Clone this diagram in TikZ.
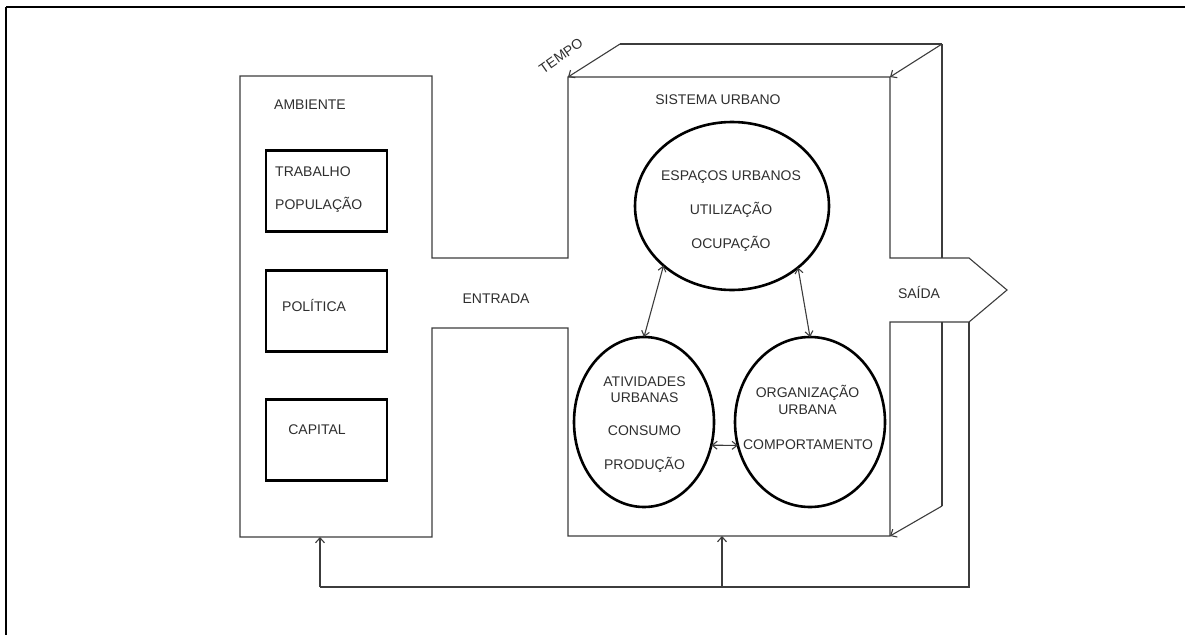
\documentclass[tikz,border=0pt]{standalone}
\usepackage{fontspec}
\setmainfont{Liberation Sans}
\usetikzlibrary{arrows.meta,shapes.geometric}
\definecolor{ink}{HTML}{3C3C3C}
\definecolor{txt}{HTML}{2E2E2E}
\tikzset{
  thin line/.style={draw=ink, line width=1.1pt},
  feed/.style={thin line, -{Straight Barb[length=5pt,width=9pt]}},
  both/.style={thin line, {Straight Barb[length=5pt,width=8pt]}-{Straight Barb[length=5pt,width=8pt]}},
  ell/.style={ellipse, draw=black, line width=2.6pt, inner sep=0pt, outer sep=0pt},
  factor/.style={rectangle, draw=black, line width=2.6pt, minimum width=121pt, minimum height=81pt, inner sep=0pt},
  lbl/.style={text=txt, font=\fontsize{14pt}{16pt}\selectfont, inner sep=0pt, anchor=center},
}
\begin{document}
\begin{tikzpicture}[x=1pt, y=-1pt]
\useasboundingbox (0,0) rectangle (1185,635);

% page frame (top and left rules)
\draw[line width=2.2pt] (6,7) -- (1185,7);
\draw[line width=2.2pt] (6,7) -- (6,635);

% environment + urban system outline with input channel and output arrow
\draw[thin line, line join=miter]
  (240,76) -- (432,76) -- (432,258) -- (568,258) -- (568,77) -- (890,77)
  -- (890,258) -- (969,258) -- (1007,290) -- (969,322) -- (890,322)
  -- (890,536) -- (568,536) -- (568,328) -- (432,328) -- (432,537)
  -- (240,537) -- cycle;

% time depth of the system block
\coordinate (bl) at (620,44);
\coordinate (br) at (942,44);
\coordinate (brb) at (942,506);
\coordinate (fl) at (568,77);
\coordinate (fr) at (890,77);
\coordinate (frb) at (890,536);
\draw[thin line] (bl) -- (br);
\draw[feed] (bl) -- (fl);
\draw[feed] (br) -- (fr);
\draw[thin line] (br) -- (942,258);
\draw[thin line] (942,322) -- (brb);
\draw[feed] (brb) -- (frb);
\node[lbl, rotate=35] (tempo) at (561,56) {TEMPO};

% feedback loop
\coordinate (out) at (969,322);
\coordinate (fb1) at (969,587);
\coordinate (fbA) at (320,587);
\coordinate (fbS) at (722,587);
\coordinate (ambB) at (320,537);
\coordinate (sysB) at (722,536);
\draw[thin line] (out) -- (fb1) -- (fbA);
\draw[feed] (fbA) -- (ambB);
\draw[feed] (fbS) -- (sysB);

% labels of the blocks
\node[lbl] (ambiente) at (310,105) {AMBIENTE};
\node[lbl] (sistema) at (718,100) {SISTEMA URBANO};
\node[lbl] (entrada) at (496,299) {ENTRADA};
\node[lbl] (saida) at (919,292) {SAÍDA};

% environment factors
\node[factor] (trab) at (326.5,191) {};
\node[factor] (pol) at (326.5,311) {};
\node[factor] (cap) at (326.5,440) {};
\node[lbl, anchor=west] (t1) at (275,172) {TRABALHO};
\node[lbl, anchor=west] (t2) at (275,205) {POPULAÇÃO};
\node[lbl, anchor=west] (t3) at (282,305) {POLÍTICA};
\node[lbl] (t4) at (317,430) {CAPITAL};

% components of the urban system
\node[ell, minimum width=194pt, minimum height=168pt] (esp) at (732,206) {};
\node[ell, minimum width=140pt, minimum height=170pt] (act) at (644,422) {};
\node[ell, minimum width=150pt, minimum height=170pt] (org) at (810,422) {};

\node[lbl] (e1) at (731,177) {ESPAÇOS URBANOS};
\node[lbl] (e2) at (731,210) {UTILIZAÇÃO};
\node[lbl] (e3) at (731,244) {OCUPAÇÃO};

\node[lbl] (a1) at (644.5,382) {ATIVIDADES};
\node[lbl] (a2) at (644.5,398) {URBANAS};
\node[lbl] (a3) at (644.5,431) {CONSUMO};
\node[lbl] (a4) at (644.5,465) {PRODUÇÃO};

\node[lbl] (o1) at (807.5,393) {ORGANIZAÇÃO};
\node[lbl] (o2) at (807.5,410) {URBANA};
\node[lbl] (o3) at (808,445) {COMPORTAMENTO};

% interactions
\draw[both] (esp.221.6) -- (act.north);
\draw[both] (esp.317.6) -- (org.north);
\draw[both] (act.-19.7) -- (org.198.4);
\end{tikzpicture}
\end{document}
